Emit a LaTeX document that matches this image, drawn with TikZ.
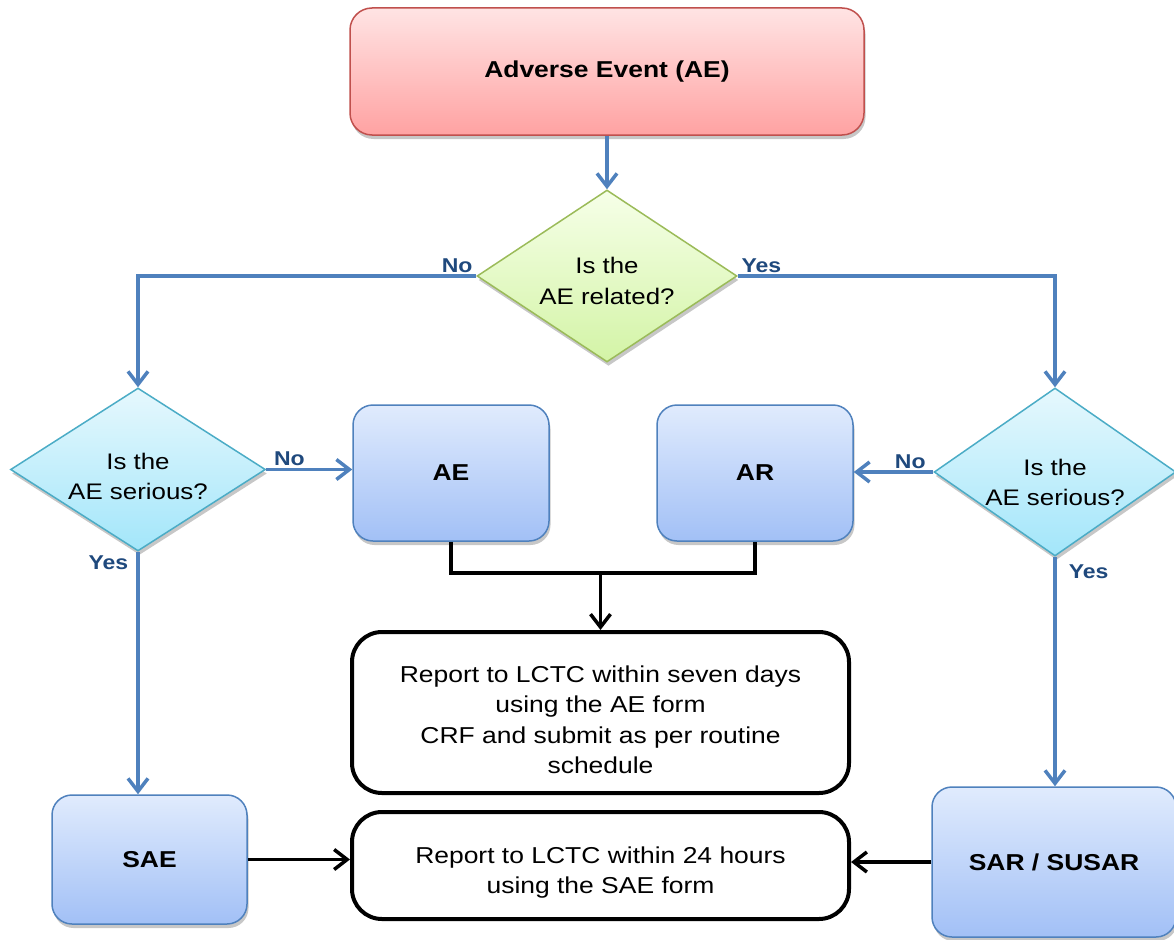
\documentclass[tikz,border=0pt]{standalone}
\usepackage{fontspec}
\setmainfont{Liberation Sans}[FakeStretch=1.15]
\usetikzlibrary{shapes.geometric,arrows.meta,shadows}

\definecolor{flowblue}{HTML}{4F81BD}
\definecolor{lblblue}{HTML}{1F497D}
\definecolor{redline}{HTML}{C0504D}
\definecolor{redtop}{HTML}{FFE4E4}
\definecolor{redbot}{HTML}{FFA2A2}
\definecolor{greenline}{HTML}{9BBB59}
\definecolor{greentop}{HTML}{F6FFE8}
\definecolor{greenbot}{HTML}{D3F4A6}
\definecolor{cyanline}{HTML}{4BACC6}
\definecolor{cyantop}{HTML}{E6F8FD}
\definecolor{cyanbot}{HTML}{A3E6FA}
\definecolor{bluetop}{HTML}{E0EBFD}
\definecolor{bluebot}{HTML}{A2C0F6}

\tikzset{
  shade/.style={drop shadow={shadow xshift=1.5pt,shadow yshift=-4pt,fill=black!22,opacity=1}},
  event/.style={draw=redline,line width=1.5pt,rounded corners=22pt,top color=redtop,bottom color=redbot,shade,
    minimum width=514pt,minimum height=127pt,font=\fontsize{23}{30}\selectfont\bfseries},
  greenq/.style={diamond,draw=greenline,line width=1.5pt,top color=greentop,bottom color=greenbot,shade,
    inner sep=0pt,aspect=1.5,align=center,font=\fontsize{22.5}{31}\selectfont},
  cyanq/.style={diamond,draw=cyanline,line width=1.5pt,top color=cyantop,bottom color=cyanbot,shade,
    inner sep=0pt,aspect=1.5,align=center,font=\fontsize{22.5}{30}\selectfont},
  kind/.style={draw=flowblue,line width=1.5pt,rounded corners=20pt,top color=bluetop,bottom color=bluebot,shade,
    font=\fontsize{23}{30}\selectfont\bfseries},
  report/.style={draw,line width=4pt,rounded corners=30pt,minimum width=497pt,align=center,
    font=\fontsize{23}{30.5}\selectfont},
  flow/.style={flowblue,line width=3.5pt,-{Straight Barb[length=13pt,width=20pt]}},
  path/.style={line width=3.5pt},
  arrow/.style={line width=3.5pt,-{Straight Barb[length=13pt,width=20pt]}},
  lbl/.style={text=lblblue,font=\fontsize{20}{22}\selectfont\bfseries,inner sep=2pt}
}

\begin{document}
\begin{tikzpicture}[x=1pt,y=-1pt]
   \useasboundingbox (0,0) rectangle (1174,939);
   % top and first question
   \node[event] (ae0) at (607,71.5) {Adverse Event (AE)};
   \node[greenq,minimum width=260pt,minimum height=172pt] (related) at (607,276) {\rule{0pt}{27pt}Is the\\AE related?};
   \node[cyanq,minimum width=255pt,minimum height=163pt] (seriousl) at (138,469.5) {\rule{0pt}{31pt}Is the\\AE serious?};
   \node[cyanq,minimum width=240pt,minimum height=168pt] (seriousr) at (1055,472) {\rule{0pt}{38pt}Is the\\AE serious?};
   % outcomes
   \node[kind,minimum width=196pt,minimum height=136pt] (ae) at (451,473) {AE};
   \node[kind,minimum width=196pt,minimum height=136pt] (ar) at (755,473) {AR};
   \node[kind,minimum width=195pt,minimum height=129pt] (sae) at (149.5,859.5) {SAE};
   \node[kind,minimum width=244pt,minimum height=150pt] (sar) at (1054,862) {SAR / SUSAR};
   % reports
   \node[report,minimum height=161pt] (rep7) at (600.5,712.5) {\rule{0pt}{31pt}Report to LCTC within seven days\\using the AE form\\CRF and submit as per routine\\schedule};
   \node[report,minimum height=107pt] (rep24) at (600.5,865.5) {\rule{0pt}{31pt}Report to LCTC within 24 hours\\using the SAE form};
   \coordinate (join) at (600.5,573);

   \draw[flow] (ae0) -- (related);
   \draw[flow] (related.west) node[lbl,anchor=south east] (no1) {No} -| (seriousl.north);
   \draw[flow] (related.east) node[lbl,anchor=south west] (yes1) {Yes} -| (seriousr.north);
   \draw[flow] (seriousl.east) node[lbl,anchor=south west,xshift=4pt] (no2) {No} -- (seriousl.east -| ae.west);
   \draw[flow] (seriousr.west) node[lbl,anchor=south east,xshift=-4pt] (no3) {No} -- (seriousr.west -| ar.east);
   \draw[flow] (seriousl.south) node[lbl,anchor=north east,xshift=-6pt] (yes2) {Yes} -- (seriousl.south |- sae.north);
   \draw[flow] (seriousr.south) node[lbl,anchor=north west,xshift=10pt,yshift=-4pt] (yes3) {Yes} -- (seriousr.south |- sar.north);
   \draw[path] (ae.south) |- (join) -| (ar.south);
   \draw[arrow] (join) -- (rep7.north);
   \draw[arrow] (sae.east) -- (sae.east -| rep24.west);
   \draw[arrow] (sar.west) -- (sar.west -| rep24.east);
\end{tikzpicture}
\end{document}
